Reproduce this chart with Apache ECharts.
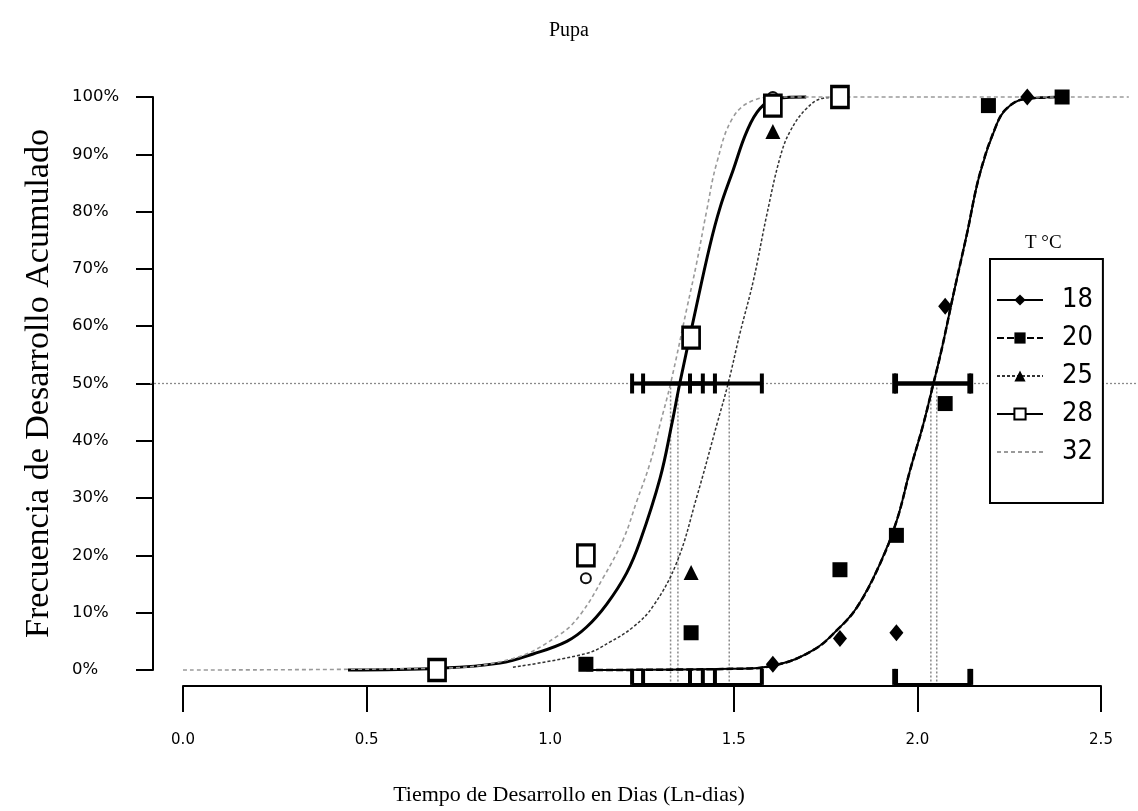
<!DOCTYPE html>
<html>
<head>
<meta charset="utf-8">
<script src="https://cdn.jsdelivr.net/npm/echarts@6/dist/echarts.min.js"></script>
<style>
  html, body { margin: 0; padding: 0; background: #fff; }
  #chart { width: 1138px; height: 811px; }
</style>
</head>
<body>
<div id="chart"></div>
<script>
// Rearing temperatures (°C)
const temperatures = ['18', '20', '25', '28', '32'];

// Observed cumulative development: [ln(days), fraction developed]
const obs18 = [[1.609, 0.01], [1.792, 0.055], [1.946, 0.065], [2.079, 0.635], [2.303, 1.0]];
const obs20 = [[1.099, 0.01], [1.386, 0.065], [1.792, 0.175], [1.946, 0.235], [2.079, 0.465], [2.197, 0.985], [2.398, 1.0]];
const obs25 = [[0.693, 0.0], [1.386, 0.17], [1.609, 0.94], [1.792, 1.0]];
const obs28 = [[0.693, 0.0], [1.099, 0.2], [1.386, 0.58], [1.609, 0.985], [1.792, 1.0]];
const obs32 = [[0.693, 0.0], [1.099, 0.16], [1.609, 1.0]];

// Fitted cumulative curves: [ln(days), fraction]
const fit18 = [[1.10, 0], [1.50, 0.002], [1.62, 0.009], [1.72, 0.035], [1.783, 0.069], [1.838, 0.109], [1.901, 0.185],
  [1.947, 0.261], [1.983, 0.348], [2.019, 0.428], [2.047, 0.5], [2.070, 0.561], [2.101, 0.654], [2.138, 0.76],
  [2.174, 0.867], [2.220, 0.953], [2.247, 0.98], [2.292, 0.996], [2.40, 1.0]];
const fit20 = [[1.10, 0], [1.50, 0.002], [1.62, 0.009], [1.72, 0.035], [1.783, 0.069], [1.838, 0.109], [1.901, 0.185],
  [1.947, 0.261], [1.983, 0.348], [2.019, 0.428], [2.047, 0.5], [2.070, 0.561], [2.101, 0.654], [2.138, 0.76],
  [2.174, 0.867], [2.220, 0.953], [2.247, 0.98], [2.292, 0.996], [2.40, 1.0]];
const fit25 = [[0.90, 0.005], [1.101, 0.029], [1.165, 0.049], [1.228, 0.075], [1.283, 0.112], [1.347, 0.188],
  [1.401, 0.301], [1.456, 0.428], [1.487, 0.5], [1.519, 0.587], [1.556, 0.68], [1.592, 0.793], [1.628, 0.893],
  [1.656, 0.94], [1.701, 0.98], [1.747, 0.998], [1.80, 1.0]];
const fit28 = [[0.45, 0], [0.70, 0.003], [0.865, 0.012], [0.955, 0.028], [1.047, 0.05], [1.101, 0.075], [1.156, 0.115],
  [1.21, 0.169], [1.247, 0.225], [1.301, 0.334], [1.333, 0.428], [1.355, 0.5], [1.392, 0.61], [1.437, 0.74],
  [1.465, 0.807], [1.501, 0.873], [1.538, 0.94], [1.574, 0.98], [1.62, 0.998], [1.70, 1.0]];
const fit32 = [[0, 0], [0.69, 0.003], [0.90, 0.02], [1.028, 0.062], [1.083, 0.096], [1.147, 0.162], [1.201, 0.228],
  [1.238, 0.295], [1.274, 0.361], [1.301, 0.428], [1.33, 0.5], [1.374, 0.63], [1.401, 0.71], [1.428, 0.8],
  [1.456, 0.885], [1.501, 0.965], [1.56, 0.995], [1.62, 1.0], [2.58, 1.0]];

// Median development time (ln-days) and its confidence limits, in temperature order
const medianX = [2.04, 2.056, 1.49, 1.35, 1.33];
const ciLow = [1.94, 1.945, 1.383, 1.255, 1.225];
const ciHigh = [2.15, 2.145, 1.579, 1.451, 1.418];

// Reference level for the median and the extent of its guide line
const halfLevel = 0.5;
const halfLineX = [-0.09, 2.6];
// Level at which the limits are repeated along the time axis
const baseLevel = -0.026;

// Axis ticks
const xTicks = [0, 0.5, 1.0, 1.5, 2.0, 2.5];
const yTicks = [0, 0.1, 0.2, 0.3, 0.4, 0.5, 0.6, 0.7, 0.8, 0.9, 1.0];

const serif = '"Liberation Serif", "DejaVu Serif", serif';
const narrow = '"Liberation Sans Narrow", "DejaVu Sans Condensed", "Liberation Sans", sans-serif';
const sans = '"DejaVu Sans", sans-serif';

const chart = echarts.init(document.getElementById('chart'), null, { renderer: 'canvas' });

const curveStyles = {
  '18': { color: '#000', width: 2, type: 'solid' },
  '20': { color: '#000', width: 2.5, type: [7, 3] },
  '25': { color: '#333', width: 1.5, type: [3, 2] },
  '28': { color: '#000', width: 3, type: 'solid' },
  '32': { color: '#9a9a9a', width: 1.6, type: [4, 3] }
};
const markers = {
  '18': { symbol: 'diamond', size: [14, 17], item: { color: '#000', opacity: 1 } },
  '20': { symbol: 'rect', size: 15, item: { color: '#000', opacity: 1 } },
  '25': { symbol: 'triangle', size: 15, item: { color: '#000', opacity: 1 } },
  '28': { symbol: 'rect', size: [17, 21], item: { color: '#fff', borderColor: '#000', borderWidth: 3, opacity: 1 } },
  '32': { symbol: 'none', size: 10, item: { color: '#9a9a9a', opacity: 1 } }
};
const fits = { '18': fit18, '20': fit20, '25': fit25, '28': fit28, '32': fit32 };
const obs = { '18': obs18, '20': obs20, '25': obs25, '28': obs28, '32': obs32 };

const curveSeries = temperatures.map(t => ({
  name: t,
  type: 'line',
  xAxisIndex: 0, yAxisIndex: 0,
  data: fits[t],
  smooth: 0.4,
  showSymbol: false,
  symbol: markers[t].symbol,
  symbolSize: markers[t].size,
  itemStyle: markers[t].item,
  lineStyle: curveStyles[t],
  z: 3,
  silent: true
}));

const pointSymbols = { '18': 'diamond', '20': 'rect', '25': 'triangle', '28': 'rect', '32': 'emptyCircle' };
const pointSeries = temperatures.map(t => ({
  name: t + ' obs',
  type: 'scatter',
  xAxisIndex: 0, yAxisIndex: 0,
  data: obs[t],
  symbol: pointSymbols[t],
  symbolSize: t === '32' ? 10 : markers[t].size,
  itemStyle: t === '32' ? { color: '#111', borderWidth: 2, opacity: 1 } : markers[t].item,
  z: t === '32' ? 4 : 5,
  silent: true
}));

const limitsData = temperatures.map((t, i) => [ciLow[i], ciHigh[i]]);

option = {
  animation: false,
  backgroundColor: '#fff',
  title: [
    { text: 'Pupa', left: 'center', top: 16, textStyle: { fontFamily: serif, fontSize: 20, fontWeight: 'normal', color: '#000' } },
    { text: 'Tiempo de Desarrollo en Dias (Ln-dias)', left: 'center', top: 779, textStyle: { fontFamily: serif, fontSize: 22, fontWeight: 'normal', color: '#000' } },
    { text: 'T \u00B0C', left: 1020, top: 229, textStyle: { fontFamily: serif, fontSize: 19, fontWeight: 'normal', color: '#000' } }
  ],
  legend: {
    data: temperatures.map(t => t === '32' ? { name: t, itemStyle: { opacity: 0 } } : { name: t }),
    orient: 'vertical',
    left: 990, top: 259,
    padding: [26, 10, 36, 6],
    itemGap: 8,
    itemWidth: 46, itemHeight: 14,
    backgroundColor: '#fff',
    borderColor: '#000', borderWidth: 2, borderRadius: 0,
    selectedMode: false,
    textStyle: { fontFamily: narrow, fontSize: 27, lineHeight: 30, color: '#000', padding: [0, 0, 0, 14] }
  },
  grid: [
    // plotting area holding all marks
    { left: 146.34, right: 1.84, top: 68.35, bottom: 112.35 },
    // time axis
    { left: 183, right: 37, top: 600, bottom: 125 },
    // frequency axis
    { left: 153, width: 10, top: 97, bottom: 141 }
  ],
  xAxis: [
    { gridIndex: 0, type: 'value', min: -0.1, max: 2.6, show: false },
    {
      gridIndex: 1, type: 'value', min: xTicks[0], max: xTicks[xTicks.length - 1], interval: 0.5,
      axisLine: { lineStyle: { color: '#000', width: 2 } },
      axisTick: { length: 26, lineStyle: { color: '#000', width: 2 } },
      splitLine: { show: false },
      axisLabel: { margin: 47, fontFamily: sans, fontSize: 15, color: '#000', formatter: v => v.toFixed(1) }
    },
    { gridIndex: 2, type: 'value', min: 0, max: 1, show: false }
  ],
  yAxis: [
    { gridIndex: 0, type: 'value', min: -0.05, max: 1.05, show: false },
    { gridIndex: 1, type: 'value', min: 0, max: 1, show: false },
    {
      gridIndex: 2, type: 'value', min: yTicks[0], max: yTicks[yTicks.length - 1], interval: 0.1,
      axisLine: { show: true, lineStyle: { color: '#000', width: 2 } },
      axisTick: { show: true, length: 17, lineStyle: { color: '#000', width: 2 } },
      splitLine: { show: false },
      axisLabel: {
        margin: 81, align: 'left', fontFamily: sans, fontSize: 16.5, color: '#000',
        formatter: v => Math.round(v * 100) + '%'
      },
      name: 'Frecuencia de Desarrollo Acumulado',
      nameLocation: 'middle',
      nameRotate: 90,
      nameGap: 97,
      nameTextStyle: { fontFamily: serif, fontSize: 34, color: '#000' }
    }
  ],
  series: [
    // guide line at the median level
    {
      name: 'half', type: 'line', xAxisIndex: 0, yAxisIndex: 0,
      data: halfLineX.map(x => [x, halfLevel]),
      showSymbol: false, symbol: 'none', silent: true, z: 1,
      lineStyle: { color: '#8a8a8a', width: 1.3, type: [2, 2] }
    },
    // drop lines from the median to the time axis
    {
      name: 'medians', type: 'custom', xAxisIndex: 0, yAxisIndex: 0, silent: true, z: 1,
      data: medianX.map(m => [m]),
      renderItem(params, api) {
        const top = api.coord([api.value(0), halfLevel]);
        const bot = api.coord([api.value(0), baseLevel]);
        return {
          type: 'line',
          shape: { x1: top[0], y1: top[1], x2: bot[0], y2: bot[1] },
          style: { stroke: '#8a8a8a', lineWidth: 1.5, lineDash: [2, 2] }
        };
      }
    },
    ...curveSeries,
    ...pointSeries,
    // confidence limits of the median, at the 50 % level
    {
      name: 'limits', type: 'custom', xAxisIndex: 0, yAxisIndex: 0, silent: true, z: 6,
      data: limitsData,
      renderItem(params, api) {
        const a = api.coord([api.value(0), halfLevel]);
        const b = api.coord([api.value(1), halfLevel]);
        const h = 10;
        const st = { stroke: '#000', lineWidth: 4 };
        return {
          type: 'group', children: [
            { type: 'line', shape: { x1: a[0], y1: a[1], x2: b[0], y2: b[1] }, style: st },
            { type: 'line', shape: { x1: a[0], y1: a[1] - h, x2: a[0], y2: a[1] + h }, style: st },
            { type: 'line', shape: { x1: b[0], y1: b[1] - h, x2: b[0], y2: b[1] + h }, style: st }
          ]
        };
      }
    },
    // the same limits repeated along the time axis
    {
      name: 'limitsBase', type: 'custom', xAxisIndex: 0, yAxisIndex: 0, silent: true, z: 6,
      data: limitsData,
      renderItem(params, api) {
        const a = api.coord([api.value(0), baseLevel]);
        const b = api.coord([api.value(1), baseLevel]);
        const h = 16;
        const st = { stroke: '#000', lineWidth: 4 };
        return {
          type: 'group', children: [
            { type: 'line', shape: { x1: a[0], y1: a[1], x2: b[0], y2: b[1] }, style: st },
            { type: 'line', shape: { x1: a[0], y1: a[1] - h, x2: a[0], y2: a[1] }, style: st },
            { type: 'line', shape: { x1: b[0], y1: b[1] - h, x2: b[0], y2: b[1] }, style: st }
          ]
        };
      }
    }
  ]
};

chart.setOption(option);
</script>
</body>
</html>
